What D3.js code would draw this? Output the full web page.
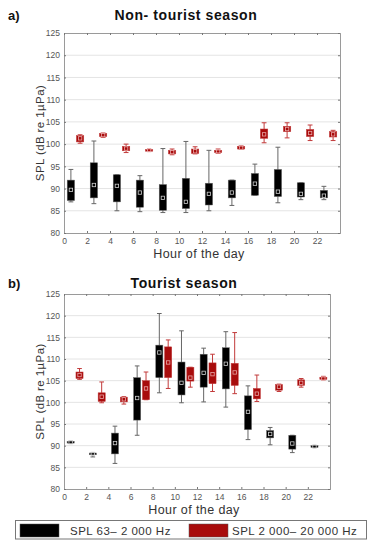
<!DOCTYPE html>
<html>
<head>
<meta charset="utf-8">
<title>SPL by hour</title>
<script src="https://d3js.org/d3.v7.min.js"></script>
<style>
  html, body { margin: 0; background: #fff; }
  svg { display: block; font-family: "Liberation Sans", Arial, sans-serif; }
</style>
</head>
<body>
<svg id="chart" width="375" height="550"></svg>
<script>
// hours of the day at which each series was sampled
let hoursLow  = [0, 2, 4, 6, 8, 10, 12, 14, 16, 18, 20, 22];
let hoursHigh = [1, 3, 5, 7, 9, 11, 13, 15, 17, 19, 21, 23];
let yTicks = [80, 85, 90, 95, 100, 105, 110, 115, 120, 125];
let xTicks = [0, 2, 4, 6, 8, 10, 12, 14, 16, 18, 20, 22];

// [min, q1, median, q3, max]
let offLow = [
  [87.0, 87.3, 89.7, 91.9, 94.3],
  [86.6, 87.9, 90.8, 95.8, 100.7],
  [85.0, 87.0, 90.6, 93.1, 93.1],
  [84.8, 85.8, 89.1, 91.9, 92.9],
  [84.6, 85.1, 87.9, 90.9, 99.0],
  [84.6, 85.5, 87.0, 92.3, 100.6],
  [85.0, 86.3, 88.8, 91.2, 98.6],
  [86.2, 87.9, 89.1, 91.9, 91.9],
  [88.5, 88.5, 91.1, 93.4, 95.5],
  [86.8, 88.2, 89.3, 94.3, 99.3],
  [87.5, 88.1, 88.8, 91.3, 91.3],
  [87.5, 87.9, 88.4, 89.6, 90.5]
];
let offHigh = [
  [100.2, 100.5, 101.3, 101.9, 102.1],
  [101.5, 101.7, 102.0, 102.4, 102.5],
  [98.1, 98.5, 99.0, 99.5, 100.0],
  [98.5, 98.55, 98.65, 98.75, 98.8],
  [97.6, 97.8, 98.2, 98.6, 98.9],
  [97.8, 97.9, 98.4, 98.9, 99.4],
  [97.9, 98.1, 98.35, 98.6, 98.9],
  [98.8, 98.9, 99.2, 99.5, 99.6],
  [100.3, 101.3, 102.2, 103.4, 104.8],
  [101.4, 102.8, 103.4, 104.0, 104.8],
  [100.8, 101.7, 102.5, 103.3, 104.3],
  [100.8, 101.6, 102.2, 102.8, 103.1]
];
let touLow = [
  [90.5, 90.6, 90.8, 91.0, 91.0],
  [87.4, 87.9, 88.1, 88.3, 88.3],
  [85.9, 88.1, 90.6, 92.9, 94.5],
  [92.4, 95.9, 101.0, 105.7, 108.4],
  [102.2, 105.7, 111.5, 113.2, 120.5],
  [99.9, 101.7, 104.5, 109.3, 116.5],
  [100.1, 103.5, 106.8, 111.1, 112.5],
  [98.9, 103.1, 108.9, 112.6, 116.3],
  [91.4, 93.7, 97.8, 101.5, 103.8],
  [90.2, 91.8, 92.7, 93.5, 94.2],
  [88.4, 89.2, 90.5, 92.4, 92.4],
  [89.6, 89.6, 89.8, 90.0, 90.0]
];
let touHigh = [
  [105.3, 105.5, 106.3, 107.0, 107.8],
  [99.9, 100.2, 101.3, 102.2, 104.7],
  [99.6, 100.1, 100.7, 101.2, 101.3],
  [100.6, 100.6, 103.2, 105.0, 107.0],
  [103.2, 105.7, 109.2, 112.8, 114.4],
  [103.5, 104.9, 105.7, 108.1, 108.1],
  [102.5, 104.3, 106.5, 109.1, 111.1],
  [102.0, 103.9, 106.9, 109.0, 116.1],
  [100.2, 100.8, 102.0, 103.2, 106.3],
  [102.5, 102.8, 103.6, 104.1, 104.2],
  [103.5, 103.9, 104.5, 105.2, 105.5],
  [105.2, 105.3, 105.5, 105.8, 106.0]
];

let series = {
  low:  { name: "SPL 63\u2013 2 000 Hz",    fill: "#000000", line: "#666666", mark: "#cfcfcf", shift: 0.6 },
  high: { name: "SPL 2 000\u2013 20 000 Hz", fill: "#a80c0c", line: "#c23a3a", mark: "#e8a8a8", shift: 0.4 }
};

let svg = d3.select("#chart");

function panel(opt)
{
  let x = d3.scaleLinear().domain([0, 24]).range([opt.left, opt.right]);
  let y = d3.scaleLinear().domain([80, 125]).range([opt.bottom, opt.top]);
  let g = svg.append("g");

  // grid
  g.append("g").selectAll("line").data(yTicks.slice(1, -1)).join("line")
    .attr("x1", opt.left).attr("x2", opt.right)
    .attr("y1", d => y(d)).attr("y2", d => y(d))
    .attr("stroke", "#e4e4e4").attr("stroke-width", 1);

  // axes with inner ticks
  g.append("g").attr("transform", `translate(0,${opt.bottom})`)
    .call(d3.axisBottom(x).tickValues(xTicks).tickSize(-2).tickPadding(5));
  g.append("g").attr("transform", `translate(${opt.left},0)`)
    .call(d3.axisLeft(y).tickValues(yTicks).tickSize(-2).tickPadding(4));
  g.append("g").attr("transform", `translate(0,${opt.top})`)
    .call(d3.axisTop(x).tickValues(xTicks).tickSize(-2).tickFormat(""));
  g.append("g").attr("transform", `translate(${opt.right},0)`)
    .call(d3.axisRight(y).tickValues(yTicks).tickSize(-2).tickFormat(""));
  g.selectAll(".domain").attr("stroke", "#9a9a9a");
  g.selectAll(".tick line").attr("stroke", "#777");
  g.selectAll(".tick text").attr("fill", "#555").attr("font-size", 8.5);

  // boxes
  let bw = x(0.64) - x(0);
  let cw = x(0.42) - x(0);
  function drawSeries(hours, rows, s)
  {
    let data = rows.map((r, i) => ({ cx: x(hours[i] + s.shift), v: r }));
    let b = g.append("g").selectAll("g").data(data).join("g");
    b.append("line")
      .attr("x1", d => d.cx).attr("x2", d => d.cx)
      .attr("y1", d => y(d.v[0])).attr("y2", d => y(d.v[4]))
      .attr("stroke", s.line).attr("stroke-width", 1);
    b.selectAll(".cap").data(d => [[d.cx, d.v[0]], [d.cx, d.v[4]]]).join("line")
      .attr("x1", d => d[0] - cw / 2).attr("x2", d => d[0] + cw / 2)
      .attr("y1", d => y(d[1])).attr("y2", d => y(d[1]))
      .attr("stroke", s.line).attr("stroke-width", 1);
    b.append("rect")
      .attr("x", d => d.cx - bw / 2).attr("width", bw)
      .attr("y", d => y(d.v[3])).attr("height", d => Math.max(1.5, y(d.v[1]) - y(d.v[3])))
      .attr("fill", s.fill).attr("stroke", s.line).attr("stroke-width", 0.5);
    b.append("rect")
      .attr("x", d => d.cx - 1.7).attr("y", d => y(d.v[2]) - 1.7)
      .attr("width", 3.4).attr("height", 3.4)
      .attr("fill", "none").attr("stroke", s.mark).attr("stroke-width", 0.8);
  }
  drawSeries(hoursLow, opt.low, series.low);
  drawSeries(hoursHigh, opt.high, series.high);

  // labels
  svg.append("text").attr("x", 8).attr("y", opt.titleY).attr("font-weight", "bold")
    .attr("font-size", 13).attr("fill", "#111").text(opt.tag);
  svg.append("text").attr("x", opt.titleX).attr("y", opt.titleY).attr("text-anchor", "middle")
    .attr("font-weight", "bold").attr("font-size", 14).attr("letter-spacing", 0.6)
    .attr("fill", "#111").text(opt.title);
  svg.append("text").attr("x", (opt.left + opt.right) / 2 - 3).attr("y", opt.bottom + 25)
    .attr("text-anchor", "middle").attr("font-size", 12.5).attr("letter-spacing", 0.4)
    .attr("fill", "#333").text("Hour of the day");
  svg.append("text")
    .attr("transform", `translate(${opt.left - 20},${(opt.top + opt.bottom) / 2}) rotate(-90)`)
    .attr("text-anchor", "middle").attr("font-size", 11.5).attr("letter-spacing", 0.4)
    .attr("fill", "#333").text("SPL (dB re 1\u00b5Pa)");
}

panel({ tag: "a)", title: "Non- tourist season", titleX: 186, titleY: 20,
        left: 64, right: 340, top: 33, bottom: 233, low: offLow, high: offHigh });
panel({ tag: "b)", title: "Tourist season", titleX: 184, titleY: 288,
        left: 64, right: 330, top: 294, bottom: 489, low: touLow, high: touHigh });

// legend
let lg = svg.append("g");
lg.append("rect").attr("x", 15.5).attr("y", 520.5).attr("width", 351).attr("height", 18.5)
  .attr("fill", "#fff").attr("stroke", "#777").attr("stroke-width", 1);
[[series.low, 20, 70], [series.high, 189, 232]].forEach(([s, sx, tx]) => {
  lg.append("rect").attr("x", sx).attr("y", 524).attr("width", 39).attr("height", 13)
    .attr("fill", s.fill).attr("stroke", "#555").attr("stroke-width", 0.5);
  lg.append("text").attr("x", tx).attr("y", 535).attr("font-size", 11.5)
    .attr("letter-spacing", 0.5).attr("fill", "#333").text(s.name);
});
</script>
</body>
</html>
